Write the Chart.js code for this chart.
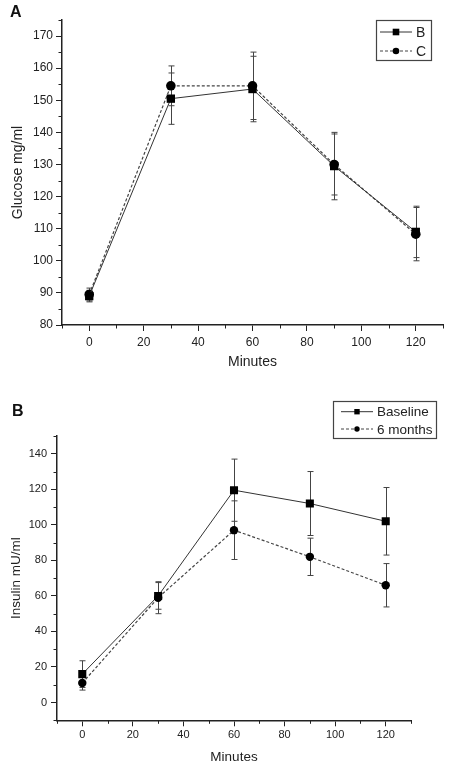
<!DOCTYPE html>
<html><head><meta charset="utf-8">
<script src="https://cdn.jsdelivr.net/npm/chart.js@4/dist/chart.umd.min.js"></script>
<style>
html,body{margin:0;padding:0;background:#fff;}
#wrap{position:relative;width:450px;height:767px;overflow:hidden;background:#fff;}
canvas{position:absolute;left:0;}
.lbl{position:absolute;font:bold 16px "Liberation Sans",Arial,sans-serif;color:#111;line-height:normal;}
</style></head><body>
<div id="wrap">
<canvas id="cA" width="450" height="380" style="top:0"></canvas>
<canvas id="cB" width="450" height="387" style="top:380px"></canvas>
<div class="lbl" style="left:10px;top:3px">A</div>
<div class="lbl" style="left:12px;top:402px">B</div>
</div>
<script>
// ---- data ----
const minutes = [0, 30, 60, 90, 120];
const minuteTicks = [0, 20, 40, 60, 80, 100, 120];

const glucoseLabels = ['B', 'C'];
const glucoseB = [89, 150.5, 153.5, 129.5, 109];
const glucoseBErr = [1.8, 8, 10.2, 10.5, 8];
const glucoseC = [89.5, 154.5, 154.5, 130, 108.3];
const glucoseCErr = [2, 6.2, 10.5, 9.5, 8.3];
const glucoseTicks = [80, 90, 100, 110, 120, 130, 140, 150, 160, 170];

const insulinLabels = ['Baseline', '6 months'];
const insulinBase = [16, 60, 119.5, 112, 102];
const insulinBaseErr = [7.5, 7.5, 17.5, 18, 19];
const insulin6m = [11, 59, 97, 82, 66];
const insulin6mErr = [4, 9, 16.5, 10.5, 12.2];
const insulinTicks = [0, 20, 40, 60, 80, 100, 120, 140];

const FONT = '"Liberation Sans", Arial, sans-serif';
const INK = '#222';

const pts = (vals) => minutes.map((m, i) => ({x: m, y: vals[i]}));

const errorBars = {
  id: 'errorBars',
  beforeDatasetsDraw(chart) {
    const {ctx} = chart; const xs = chart.scales.x, ys = chart.scales.y;
    chart.data.datasets.forEach(ds => {
      const err = ds.errors; if (!err) return;
      ctx.save(); ctx.strokeStyle = '#444'; ctx.lineWidth = 1;
      ds.data.forEach((p, j) => {
        const px = Math.round(xs.getPixelForValue(p.x)) + 0.5;
        const t = ys.getPixelForValue(p.y + err[j]), b = ys.getPixelForValue(p.y - err[j]);
        ctx.beginPath();
        ctx.moveTo(px, t); ctx.lineTo(px, b);
        ctx.moveTo(px - 3, t); ctx.lineTo(px + 3, t);
        ctx.moveTo(px - 3, b); ctx.lineTo(px + 3, b);
        ctx.stroke();
      });
      ctx.restore();
    });
  }
};

const minorTicks = {
  id: 'minorTicks',
  afterDraw(chart, args, o) {
    const {ctx} = chart; const xs = chart.scales.x, ys = chart.scales.y;
    ctx.save(); ctx.strokeStyle = INK; ctx.lineWidth = 1;
    ctx.beginPath();
    xs.ticks.forEach(t => {
      if (o.majorX.includes(t.value)) return;
      const px = Math.round(xs.getPixelForValue(t.value)) + 0.5;
      ctx.moveTo(px, xs.top); ctx.lineTo(px, xs.top + 3.5);
    });
    ys.ticks.forEach(t => {
      if (o.majorY.includes(t.value)) return;
      const py = Math.round(ys.getPixelForValue(t.value)) + 0.5;
      ctx.moveTo(ys.right, py); ctx.lineTo(ys.right - 3.5, py);
    });
    ctx.stroke(); ctx.restore();
  }
};

const boxLegend = {
  id: 'boxLegend',
  afterDraw(chart, args, o) {
    const {ctx} = chart; ctx.save();
    ctx.strokeStyle = '#444'; ctx.lineWidth = 1.2;
    ctx.strokeRect(o.x + 0.5, o.y + 0.5, o.w, o.h);
    chart.data.datasets.forEach((ds, i) => {
      const cy = o.rows[i];
      ctx.strokeStyle = ds.borderColor; ctx.lineWidth = 1;
      ctx.setLineDash(ds.borderDash || []);
      ctx.beginPath(); ctx.moveTo(o.x0, cy); ctx.lineTo(o.x1, cy); ctx.stroke();
      ctx.setLineDash([]);
      const mx = (o.x0 + o.x1) / 2;
      ctx.fillStyle = '#000';
      ctx.beginPath();
      if (ds.pointStyle === 'rect') ctx.rect(mx - o.r, cy - o.r, 2 * o.r, 2 * o.r);
      else ctx.arc(mx, cy, o.r, 0, Math.PI * 2);
      ctx.fill();
      ctx.fillStyle = INK; ctx.font = o.font + 'px ' + FONT;
      ctx.textBaseline = 'middle'; ctx.textAlign = 'left';
      ctx.fillText(ds.label, o.tx, cy + 1);
    });
    ctx.restore();
  }
};

function makeChart(id, cfg) {
  const majorX = minuteTicks, majorY = cfg.majorY;
  return new Chart(document.getElementById(id), {
    type: 'line',
    data: {
      datasets: [
        {label: cfg.labels[0], data: pts(cfg.s1), errors: cfg.e1, borderColor: '#333', borderWidth: 1,
         pointStyle: 'rect', pointRadius: cfg.rRect, backgroundColor: '#000', pointBorderColor: '#000', pointBorderWidth: 0},
        {label: cfg.labels[1], data: pts(cfg.s2), errors: cfg.e2, borderColor: '#444', borderWidth: 1.2, borderDash: [3, 2],
         pointStyle: 'circle', pointRadius: cfg.rCirc, backgroundColor: '#000', pointBorderColor: '#000', pointBorderWidth: 0}
      ]
    },
    options: {
      responsive: false, animation: false, devicePixelRatio: 1,
      layout: {padding: cfg.padding},
      plugins: {
        legend: {display: false}, tooltip: {enabled: false},
        minorTicks: {majorX, majorY},
        boxLegend: cfg.legend
      },
      scales: {
        x: {
          type: 'linear', min: -10, max: 130,
          ticks: {stepSize: 10, padding: cfg.xPad, color: INK, font: {family: FONT, size: cfg.tickFont},
                  maxRotation: 0, autoSkip: false,
                  callback: v => majorX.includes(v) ? String(v) : ''},
          grid: {drawOnChartArea: false, tickLength: 6, tickWidth: 1,
                 color: c => (c.tick && majorX.includes(c.tick.value)) ? INK : 'rgba(0,0,0,0)'},
          border: {display: true, color: INK, width: 1.5},
          title: {display: true, text: 'Minutes', color: INK, font: {family: FONT, size: cfg.titleFont},
                  padding: {top: 0, bottom: cfg.xTitlePad}},
          afterFit: s => { s.height = cfg.xH; }
        },
        y: {
          type: 'linear', min: cfg.yMin, max: cfg.yMax,
          ticks: {stepSize: cfg.yStep, padding: cfg.yPad, color: INK, font: {family: FONT, size: cfg.tickFont},
                  autoSkip: false,
                  callback: v => majorY.includes(v) ? String(v) : ''},
          grid: {drawOnChartArea: false, tickLength: 6, tickWidth: 1,
                 color: c => (c.tick && majorY.includes(c.tick.value)) ? INK : 'rgba(0,0,0,0)'},
          border: {display: true, color: INK, width: 1.5},
          title: {display: true, text: cfg.yTitle, color: INK, font: {family: FONT, size: cfg.titleFont},
                  padding: {top: cfg.yTitlePad, bottom: 0}},
          afterFit: s => { s.width = cfg.yW; }
        }
      }
    },
    plugins: [errorBars, minorTicks, boxLegend]
  });
}

makeChart('cA', {
  labels: glucoseLabels, s1: glucoseB, e1: glucoseBErr, s2: glucoseC, e2: glucoseCErr,
  majorY: glucoseTicks, yMin: 80, yMax: 175, yStep: 5, yTitle: 'Glucose mg/ml',
  padding: {top: 20, right: 7, left: 0, bottom: 0},
  xH: 55, yW: 62, xPad: 4, yPad: 3, tickFont: 12, titleFont: 14, xTitlePad: 9, yTitlePad: 10,
  rRect: 5.9, rCirc: 4.8,
  legend: {x: 376, y: 20, w: 55, h: 40, rows: [32, 51], x0: 380, x1: 412, tx: 416, r: 3.3, font: 14}
});

makeChart('cB', {
  labels: insulinLabels, s1: insulinBase, e1: insulinBaseErr, s2: insulin6m, e2: insulin6mErr,
  majorY: insulinTicks, yMin: -10, yMax: 150, yStep: 10, yTitle: 'Insulin mU/ml',
  padding: {top: 56, right: 39, left: 0, bottom: 0},
  xH: 46.7, yW: 57, xPad: 2, yPad: 4, tickFont: 11, titleFont: 13.5, xTitlePad: 2, yTitlePad: 8,
  rRect: 5.7, rCirc: 4.2,
  legend: {x: 333, y: 21, w: 103, h: 37, rows: [31.7, 49], x0: 341, x1: 373, tx: 377, r: 2.7, font: 13.5}
});
</script>
</body></html>
